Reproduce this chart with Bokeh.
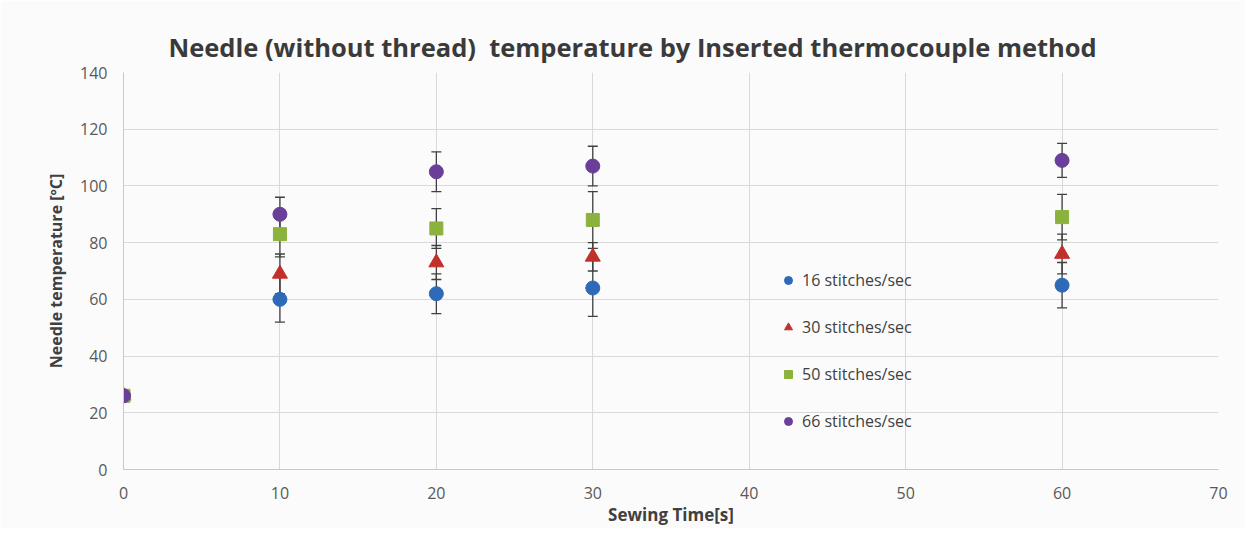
from bokeh.plotting import figure
from bokeh.models import ColumnDataSource, Whisker, TeeHead, Legend, LegendItem, FixedTicker
from bokeh.embed import file_html
from bokeh.resources import INLINE

# ---- data ----
x = [0, 10, 20, 30, 60]
s16 = [26, 60, 62, 64, 65]
e16 = [0, 8, 7, 10, 8]
s30 = [26, 69, 73, 75, 76]
e30 = [0, 7, 6, 5, 7]
s50 = [26, 83, 85, 88, 89]
e50 = [0, 8, 7, 10, 8]
s66 = [26, 90, 105, 107, 109]
e66 = [0, 6, 7, 7, 6]
labels = ["16 stitches/sec", "30 stitches/sec", "50 stitches/sec", "66 stitches/sec"]
x_ticks = [0, 10, 20, 30, 40, 50, 60, 70]
y_ticks = [0, 20, 40, 60, 80, 100, 120, 140]

FONT = "Open Sans"
BG = "#fbfbfb"

p = figure(width=1245, height=528, output_backend="svg", toolbar_location=None,
           x_range=(0, 70), y_range=(0, 140),
           min_border_left=123, min_border_right=27, min_border_top=72, min_border_bottom=59,
           background_fill_color=BG, border_fill_color=BG,
           title="Needle (without thread)\u00a0 temperature by Inserted thermocouple method")
p.title.text_font = FONT
p.title.text_font_size = "25.5px"
p.title.text_font_style = "bold"
p.title.text_color = "#3a3a3a"
p.title.align = "left"
p.title.offset = 45
p.title.standoff = 18

p.outline_line_color = None
p.xaxis.ticker = FixedTicker(ticks=x_ticks)
p.yaxis.ticker = FixedTicker(ticks=y_ticks)
for ax in (p.xaxis, p.yaxis):
    ax.axis_line_color = "#c8c8c8"
    ax.axis_line_width = 1
    ax.major_tick_line_color = None
    ax.minor_tick_line_color = None
    ax.major_label_text_font = FONT
    ax.major_label_text_font_size = "16px"
    ax.major_label_text_color = "#595959"
    ax.axis_label_text_font = FONT
    ax.axis_label_text_font_style = "bold"
    ax.axis_label_text_color = "#404040"
p.yaxis.major_label_standoff = 10
p.xaxis.major_label_standoff = 11
p.yaxis.axis_label = "Needle temperature [ºC]"
p.yaxis.axis_label_text_font_size = "16px"
p.yaxis.axis_label_standoff = 10
p.xaxis.axis_label = "Sewing Time[s]"
p.xaxis.axis_label_text_font_size = "17px"
p.xaxis.axis_label_standoff = 1

p.xgrid.grid_line_color = "#d9d9d9"
p.ygrid.grid_line_color = "#d9d9d9"

series = [
    (s16, e16, "#2e6ab7", "circle", 14),
    (s30, e30, "#c0312b", "triangle", 15),
    (s50, e50, "#8bb23d", "square", 13),
    (s66, e66, "#6a3f99", "circle", 14),
]

# error bars first
for vals, errs, col, mk, sz in series:
    xs = [xi for xi, e in zip(x, errs) if e > 0]
    up = [v + e for v, e in zip(vals, errs) if e > 0]
    lo = [v - e for v, e in zip(vals, errs) if e > 0]
    src = ColumnDataSource(dict(x=xs, upper=up, lower=lo))
    w = Whisker(source=src, base="x", upper="upper", lower="lower",
                line_color="#404040", line_width=1.3,
                upper_head=TeeHead(size=10, line_color="#404040", line_width=1.3),
                lower_head=TeeHead(size=10, line_color="#404040", line_width=1.3))
    p.add_layout(w)

items = []
for (vals, errs, col, mk, sz), lab in zip(series, labels):
    src = ColumnDataSource(dict(x=x, y=vals))
    r = p.scatter("x", "y", source=src, marker=mk, size=sz,
                  fill_color=col, line_color=col)
    items.append(LegendItem(label=lab, renderers=[r]))

legend = Legend(items=items, location=(655, 37),
                background_fill_alpha=0, border_line_color=None,
                label_text_font=FONT, label_text_font_size="16px",
                label_text_color="#404040",
                glyph_width=20, glyph_height=20, label_height=20,
                spacing=25, padding=0, margin=0, label_standoff=4)
p.add_layout(legend)

open("out.html", "w").write(file_html(p, INLINE))
